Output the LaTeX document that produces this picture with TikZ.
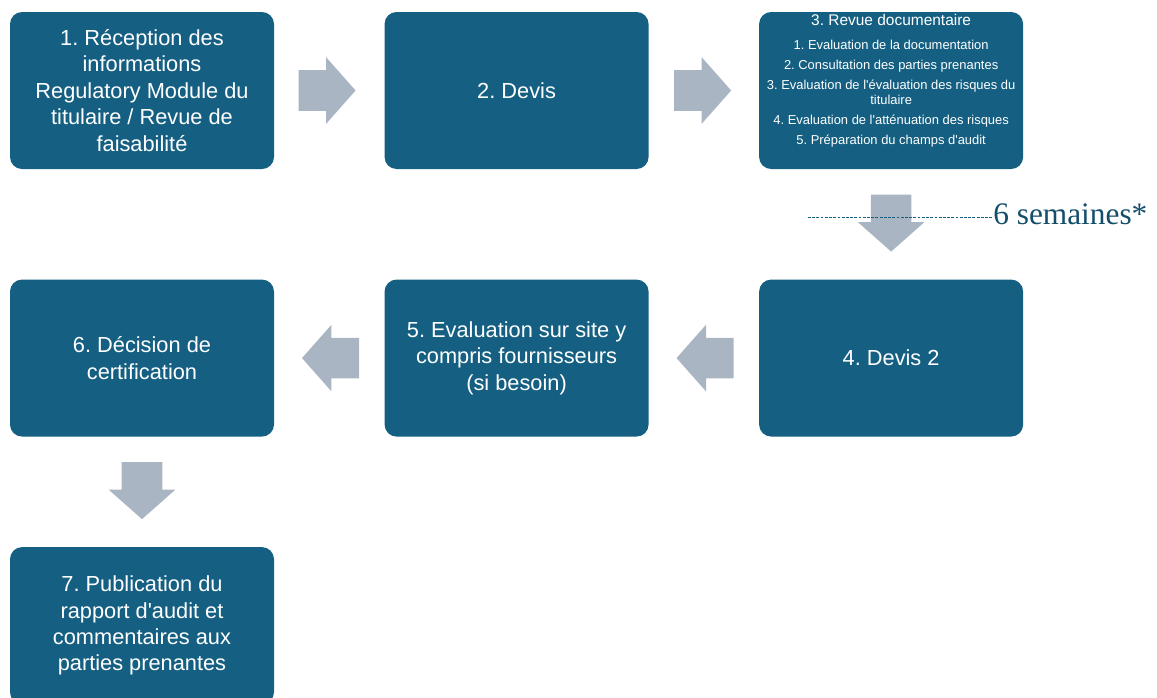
\documentclass[tikz,border=0pt]{standalone}
\usepackage{fontspec}
\setmainfont{Liberation Sans}
\newfontfamily\notefont{Liberation Serif}
\usetikzlibrary{positioning,shapes.arrows}
\definecolor{boxblue}{HTML}{156082}
\definecolor{flowgray}{HTML}{A9B5C3}
\definecolor{noteblue}{HTML}{134E6B}
\frenchspacing
\tikzset{
    %Define style for boxes
    etape/.style={
           rectangle,
           rounded corners=0.3cm,
           fill=boxblue,
           text=white,
           minimum width=6.6cm,
           minimum height=3.925cm,
           align=center,
           font=\fontsize{15.5}{18.8}\selectfont},
    %Define style for the small text of box 3
    soustexte/.style={
           text=white,
           inner sep=0pt,
           align=center,
           font=\fontsize{9.2}{11}\selectfont},
    % Define style for block arrows
    fleche/.style={
           single arrow,
           fill=flowgray,
           inner xsep=0pt,
           inner ysep=0.5cm,
           minimum height=1.425cm,
           single arrow head extend=0.325cm,
           single arrow tip angle=97},
    % downward block arrows
    flechebas/.style={
           fleche,
           shape border rotate=270,
           inner xsep=0.5cm,
           inner ysep=0pt},
    % Define style for the dashed marker
    repere/.style={
           draw=boxblue,
           line width=0.6pt,
           dash pattern=on 2pt off 1pt}
}
\begin{document}
\begin{tikzpicture}[node distance=2.75cm]
\useasboundingbox (0,0) rectangle (28.925,-17.425);
 %boxes
\node[etape] (b1) at (3.55,-2.2625) {1. Réception des\\informations\\Regulatory Module du\\titulaire / Revue de\\faisabilité};
\node[etape, right=of b1] (b2) {2. Devis};
\node[etape, right=of b2] (b3) {};
\node[etape, below=of b3] (b4) {4. Devis 2};
\node[etape, left=of b4] (b5) {5. Evaluation sur site y\\compris fournisseurs\\(si besoin)};
\node[etape, left=of b5] (b6) {6. Décision de\\certification};
\node[etape, below=of b6] (b7) {7. Publication du\\rapport d\textquotesingle audit et\\commentaires aux\\parties prenantes};
 %text of box 3
\node[soustexte, below=0.05cm of b3.north] (b3txt) {{\fontsize{11}{13}\selectfont 3. Revue documentaire}\\[6pt]
    1. Evaluation de la documentation\\[3.3pt]
    2. Consultation des parties prenantes\\[3.3pt]
    3. Evaluation de l\textquotesingle évaluation des risques du\\titulaire\\[3.3pt]
    4. Evaluation de l\textquotesingle atténuation des risques\\[3.3pt]
    5. Préparation du champs d\textquotesingle audit};
 %block arrows
\node[fleche, right=0.6cm of b1] (f12) {};
\node[fleche, right=0.625cm of b2] (f23) {};
\node[flechebas, below=0.625cm of b3] (f34) {};
\node[fleche, shape border rotate=180, left=0.625cm of b4] (f45) {};
\node[fleche, shape border rotate=180, left=0.625cm of b5] (f56) {};
\node[flechebas, below=0.625cm of b6] (f67) {};
 %delay marker
\node[font=\notefont\fontsize{22.3}{26}\selectfont, text=noteblue, anchor=base west, inner sep=0pt] (sem) at (24.825,-5.6) {6 semaines*};
\coordinate (d0) at (20.2,-5.425);
\draw[repere] (d0) -- (d0 -| sem.west);
\end{tikzpicture}
\end{document}
